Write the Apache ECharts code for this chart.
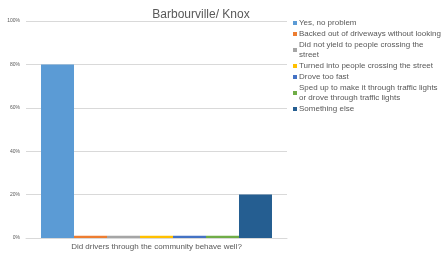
<!DOCTYPE html>
<html>
<head>
<meta charset="utf-8">
<script src="https://cdn.jsdelivr.net/npm/echarts@6/dist/echarts.min.js"></script>
<style>
html, body { margin: 0; padding: 0; background: #fff; }
#chart { width: 442px; height: 255px; }
</style>
</head>
<body>
<div id="chart"></div>
<script>
const categories = ['Did drivers through the community behave well?']
const seriesNames = [
    'Yes, no problem',
    'Backed out of driveways without looking',
    'Did not yield to people crossing the street',
    'Turned into people crossing the street',
    'Drove too fast',
    'Sped up to make it through traffic lights or drove through traffic lights',
    'Something else',
]
// legend labels wrap like the original
const legendLabels = [
    'Yes, no problem',
    'Backed out of driveways without looking',
    'Did not yield to people crossing the\nstreet',
    'Turned into people crossing the street',
    'Drove too fast',
    'Sped up to make it through traffic lights\nor drove through traffic lights',
    'Something else',
]
const values = [80, 1, 1, 1, 1, 1, 20]
const yTicks = [0, 20, 40, 60, 80, 100]
const colors = ['#5B9BD5', '#ED7D31', '#A5A5A5', '#FFC000', '#4472C4', '#70AD47', '#255E91']

const chart = echarts.init(document.getElementById('chart'), null, { renderer: 'canvas' })
const font = 'Liberation Sans, sans-serif'

let series = []
for (let i = 0; i < seriesNames.length; i++) {
    series.push({
        name: seriesNames[i],
        type: 'bar',
        data: [values[i]],
        barGap: '0%',
        barCategoryGap: '11.5%',
        itemStyle: { color: colors[i] },
    })
}

chart.setOption({
    animation: false,
    title: {
        text: 'Barbourville/ Knox',
        left: 196,
        textAlign: 'center',
        top: 4,
        textStyle: { fontFamily: font, fontSize: 12, fontWeight: 'normal', color: '#595959' },
    },
    grid: { left: 26, right: 155, top: 21, bottom: 17 },
    legend: {
        orient: 'vertical',
        left: 288,
        top: 13,
        itemWidth: 4,
        itemHeight: 4,
        itemGap: 1,
        icon: 'rect',
        selectedMode: false,
        data: seriesNames,
        formatter: name => legendLabels[seriesNames.indexOf(name)],
        textStyle: { fontFamily: font, fontSize: 8, lineHeight: 10, color: '#595959', padding: [0, 0, 0, -3] },
    },
    xAxis: {
        type: 'category',
        data: categories,
        axisLine: { lineStyle: { color: '#d9d9d9' } },
        axisTick: { show: false },
        axisLabel: { fontFamily: font, fontSize: 8, color: '#595959', margin: 5 },
    },
    yAxis: {
        type: 'value',
        min: yTicks[0],
        max: yTicks[yTicks.length - 1],
        interval: 20,
        axisLine: { show: false },
        axisTick: { show: false },
        splitLine: { lineStyle: { color: '#d9d9d9' } },
        axisLabel: { fontFamily: font, fontSize: 5, color: '#595959', margin: 6, formatter: '{value}%' },
    },
    series: series,
})
</script>
</body>
</html>
